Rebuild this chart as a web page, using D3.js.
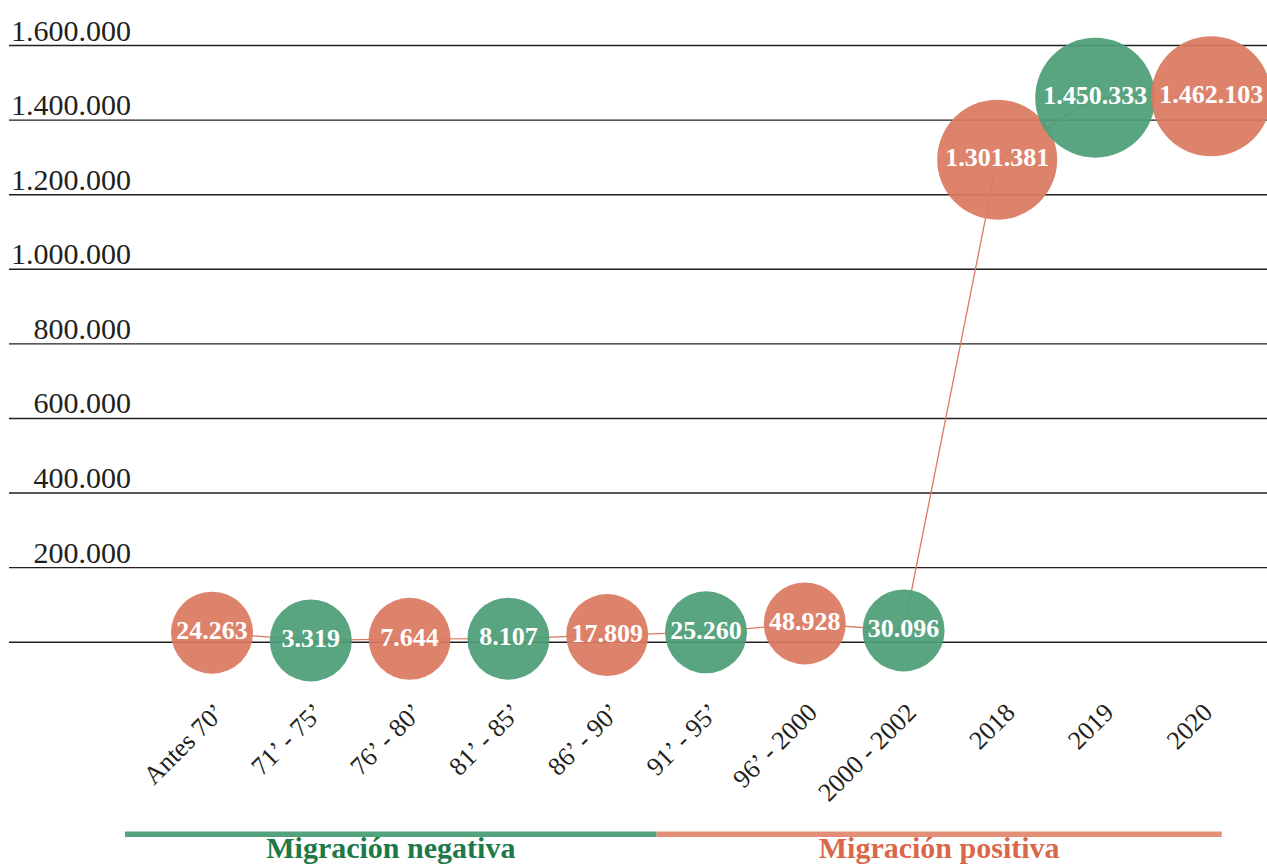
<!DOCTYPE html>
<html>
<head>
<meta charset="utf-8">
<script src="https://cdn.jsdelivr.net/npm/d3@7"></script>
<style>
  body { margin: 0; background: #fff; }
  svg { display: block; font-family: "Liberation Serif", "DejaVu Serif", serif; }
</style>
</head>
<body>
<div id="chart"></div>
<script>
var categories = ["Antes 70’", "71’ - 75’", "76’ - 80’", "81’ - 85’", "86’ - 90’", "91’ - 95’",
  "96’ - 2000", "2000 - 2002", "2018", "2019", "2020"];
var values = [24263, 3319, 7644, 8107, 17809, 25260, 48928, 30096, 1301381, 1450333, 1462103];
var yTicks = [0, 200000, 400000, 600000, 800000, 1000000, 1200000, 1400000, 1600000];
var groups = ["Migración negativa", "Migración positiva"];
var groupEnds = ["86’ - 90’", "2020"];   // last category of each group

(function() {
  var width = 1267,
      height = 866;

  var orange = "#dc7a60",
      green = "#4c9e77";

  var svg = d3.select("#chart")
    .append("svg")
    .attr("width", width)
    .attr("height", height);

  svg.append("rect").attr("width", width).attr("height", height).attr("fill", "#fff");

  var locale = d3.formatLocale({ decimal: ",", thousands: ".", grouping: [3], currency: ["", ""] });
  var fmt = locale.format(",d");

  var y = d3.scaleLinear().domain([0, 1600000]).range([641.7, 45]);
  var x = d3.scalePoint().domain(categories).range([212, 1200]);
  var r = d3.scaleThreshold().domain([1000000]).range([41, 60]);

  var data = categories.map(function(c, i) {
    return { cat: c, value: values[i], i: i, x: x(c), y: y(values[i]) };
  });

  // nudge the big bubbles apart so labels don't collide
  var simulation = d3.forceSimulation(data)
    .force("x", d3.forceX(function(d) { return x(d.cat); }).strength(0.15))
    .force("y", d3.forceY(function(d) { return y(d.value); }).strength(0.15))
    .force("collide", d3.forceCollide(function(d) { return r(d.value) - 2; }))
    .stop();
  for (var t = 0; t < 300; t++) simulation.tick();

  // grid + y labels
  var yAxis = svg.append("g")
    .attr("transform", "translate(9,0)")
    .call(d3.axisRight(y)
      .tickValues(yTicks)
      .tickSize(width - 9)
      .tickFormat(function(d) { return d === 0 ? "" : fmt(d); }));
  yAxis.select(".domain").remove();
  yAxis.selectAll(".tick line").attr("stroke", "#231f20").attr("stroke-width", 1.4);
  yAxis.selectAll(".tick text")
    .attr("x", 122)
    .attr("dy", -5)
    .attr("text-anchor", "end")
    .attr("fill", "#231f20")
    .style("font-size", "30px")
    .style("font-family", "Liberation Serif, serif");

  // connecting line
  var line = d3.line()
    .x(function(d) { return d.x; })
    .y(function(d) { return d.y; });

  svg.append("path")
    .datum(data)
    .attr("d", line)
    .attr("fill", "none")
    .attr("stroke", orange)
    .attr("stroke-width", 1.3);

  // bubbles
  svg.selectAll(".bubble")
    .data(data)
    .enter().append("circle")
    .attr("class", "bubble")
    .attr("cx", function(d) { return d.x; })
    .attr("cy", function(d) { return d.y; })
    .attr("r", function(d) { return r(d.value); })
    .attr("fill", function(d) { return d.i % 2 ? green : orange; })
    .attr("fill-opacity", 0.93);

  svg.selectAll(".val")
    .data(data)
    .enter().append("text")
    .attr("class", "val")
    .attr("x", function(d) { return d.x; })
    .attr("y", function(d) { return d.y; })
    .attr("dy", "0.26em")
    .attr("text-anchor", "middle")
    .attr("fill", "#fff")
    .style("font-weight", "bold")
    .style("font-size", "26px")
    .text(function(d) { return fmt(d.value); });

  // x labels
  svg.selectAll(".xlab")
    .data(categories)
    .enter().append("text")
    .attr("class", "xlab")
    .attr("transform", function(d) { return "translate(" + (x(d) + 14) + ",714) rotate(-45)"; })
    .attr("text-anchor", "end")
    .attr("fill", "#231f20")
    .style("font-size", "26px")
    .text(function(d) { return d; });

  // group bars
  var step = x.step();
  var bounds = [x(categories[0]) - step * 0.88,
                x(groupEnds[0]) + step / 2,
                x(groupEnds[1]) + step * 0.22];
  var barColors = ["#52a37e", "#e38f78"],
      textColors = ["#1d7a48", "#d9684a"];

  groups.forEach(function(g, i) {
    svg.append("rect")
      .attr("x", bounds[i])
      .attr("y", 831.5)
      .attr("width", bounds[i + 1] - bounds[i])
      .attr("height", 5.5)
      .attr("fill", barColors[i]);
    svg.append("text")
      .attr("x", (bounds[i] + bounds[i + 1]) / 2)
      .attr("y", 858)
      .attr("text-anchor", "middle")
      .attr("fill", textColors[i])
      .style("font-weight", "bold")
      .style("font-size", "30px")
      .text(g);
  });
})();
</script>
</body>
</html>
